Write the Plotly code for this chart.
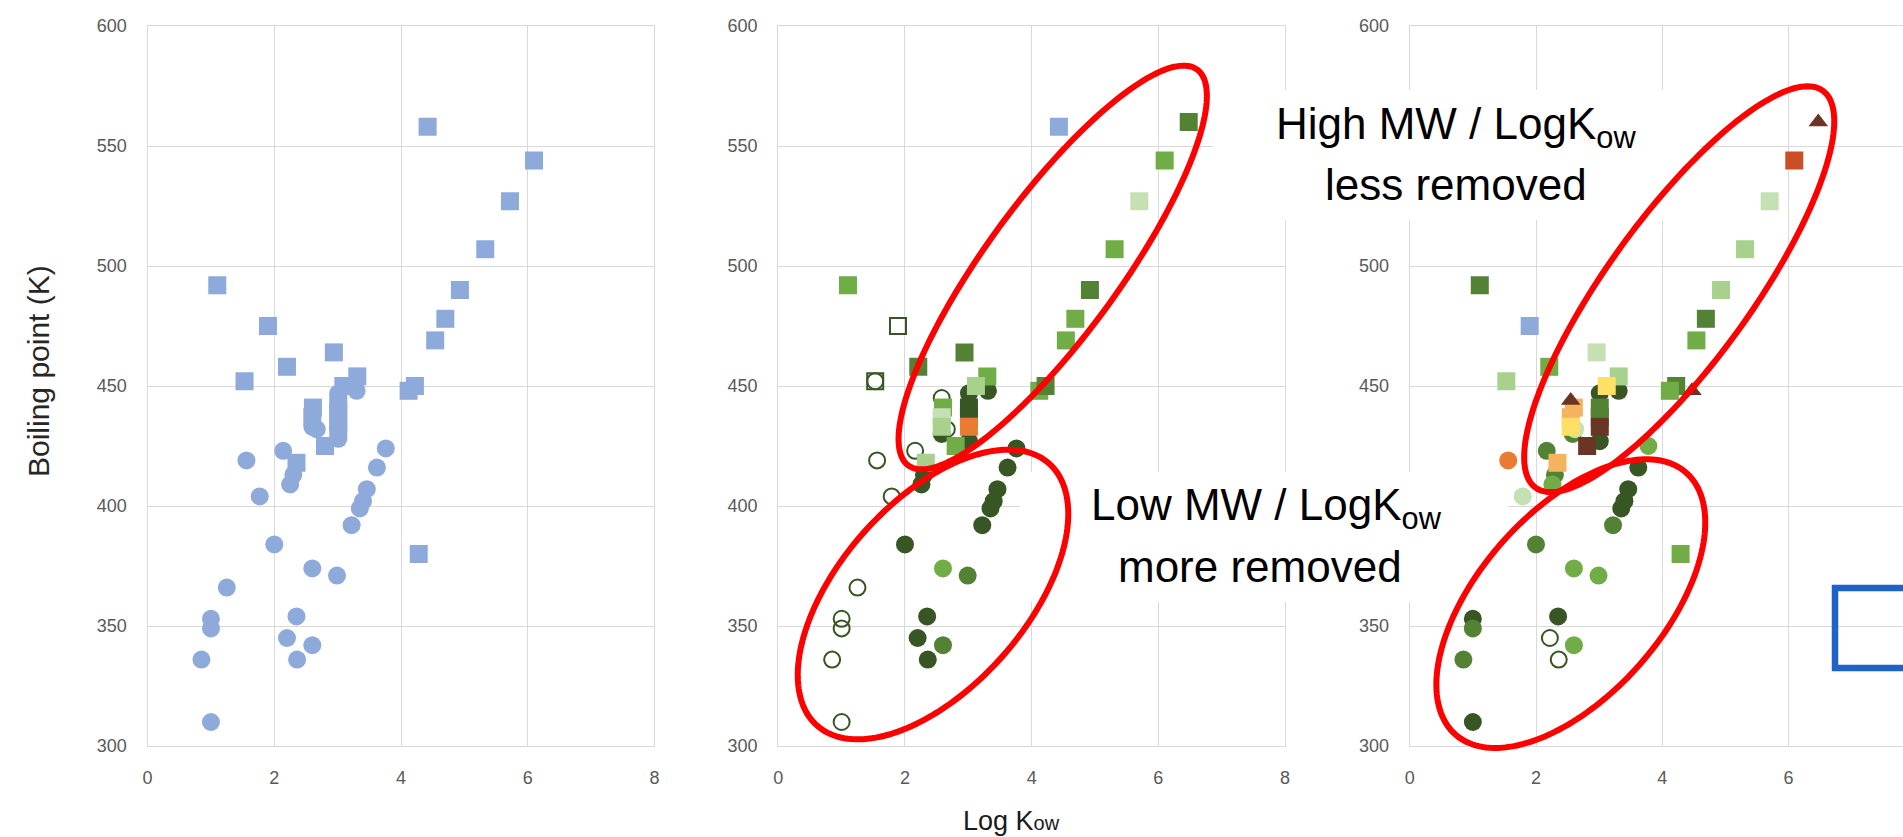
import numpy as np
import plotly.graph_objects as go

W, H = 1903, 837
FONT = "Liberation Sans, Arial, sans-serif"

# ---------------- data (Log Kow, boiling point K) ----------------
# Panel 1 (all compounds, blue)
P1_SQ_X = [1.10, 1.90, 1.53, 2.20, 2.94, 3.31, 3.09, 4.22, 4.12, 4.42, 6.10, 5.72, 5.33,
           4.93, 4.70, 4.54, 2.61, 2.60, 2.80, 2.35, 4.28, 3.01, 3.01, 3.01, 3.01]
P1_SQ_Y = [492, 475, 452, 458, 464, 454, 450, 450, 448, 558, 544, 527, 507,
           490, 478, 469, 441, 437, 425, 418, 380, 443, 439, 435, 431]
P1_CI_X = [1.56, 2.14, 2.30, 2.25, 1.77, 3.76, 3.62, 3.46, 3.40, 3.35, 3.22, 2.00, 2.60, 2.99,
           1.25, 1.00, 1.00, 0.85, 1.00, 2.35, 2.20, 2.60, 2.36, 3.30, 2.60, 2.67, 3.01, 3.01]
P1_CI_Y = [419, 423, 413, 409, 404, 424, 416, 407, 402, 399, 392, 384, 374, 371,
           366, 353, 349, 336, 310, 354, 345, 342, 336, 448, 433, 432, 447, 428]

# Panel 2
P2_SQ_BLUE_X, P2_SQ_BLUE_Y = [4.43], [558]
P2_SQ_DARK_X, P2_SQ_DARK_Y = [6.48, 4.92, 2.21, 2.94, 4.22], [560, 490, 458, 464, 450]
P2_SQ_DARKEST_X, P2_SQ_DARKEST_Y = [3.01, 3.01], [441, 437]
P2_SQ_GREEN_X = [6.10, 5.31, 4.69, 4.54, 1.10, 3.30, 4.12, 2.60, 2.80, 4.28]
P2_SQ_GREEN_Y = [544, 507, 478, 469, 492, 454, 448, 441, 425, 380]
P2_SQ_LIGHT_X, P2_SQ_LIGHT_Y = [3.12, 2.33, 2.58], [450, 418, 433]
P2_SQ_LIGHTER_X, P2_SQ_LIGHTER_Y = [5.70, 2.58], [527, 437]
P2_SQ_ORANGE_X, P2_SQ_ORANGE_Y = [3.01], [433]
P2_SQ_OPEN_X, P2_SQ_OPEN_Y = [1.89, 1.53], [475, 452]
P2_CI_DARKEST_X = [3.31, 3.01, 3.01, 2.58, 2.30, 2.26, 3.76, 3.62, 3.46, 3.40, 3.35, 3.22,
                   2.00, 2.35, 2.20, 2.36]
P2_CI_DARKEST_Y = [448, 447, 427, 430, 413, 409, 424, 416, 407, 402, 399, 392,
                   384, 354, 345, 336]
P2_CI_DARK_X, P2_CI_DARK_Y = [2.99, 2.60], [371, 342]
P2_CI_GREEN_X, P2_CI_GREEN_Y = [2.60], [374]
P2_CI_OPEN_X = [1.53, 2.58, 2.66, 2.16, 1.56, 1.79, 1.25, 1.00, 1.00, 0.85, 1.00]
P2_CI_OPEN_Y = [452, 445, 432, 423, 419, 404, 366, 353, 349, 336, 310]

# Panel 3
P3_SQ_BLUE_X, P3_SQ_BLUE_Y = [1.90], [475]
P3_SQ_DARK_X, P3_SQ_DARK_Y = [1.11, 4.69, 3.01, 4.22, 3.01], [492, 478, 441, 450, 437]
P3_SQ_GREEN_X, P3_SQ_GREEN_Y = [4.54, 2.21, 4.12, 4.29], [469, 458, 448, 380]
P3_SQ_LIGHT_X, P3_SQ_LIGHT_Y = [5.31, 4.93, 3.31, 1.53], [507, 490, 454, 452]
P3_SQ_LIGHTER_X, P3_SQ_LIGHTER_Y = [5.70, 2.96], [527, 464]
P3_SQ_YELLOW_X, P3_SQ_YELLOW_Y = [3.12, 2.55], [450, 433]
P3_SQ_LORANGE_X, P3_SQ_LORANGE_Y = [2.60, 2.55, 2.34], [441, 437, 418]
P3_SQ_BROWN_X, P3_SQ_BROWN_Y = [3.01, 2.81], [433, 425]
P3_SQ_RED_X, P3_SQ_RED_Y = [6.09], [544]
P3_TRI_BROWN_X, P3_TRI_BROWN_Y = [6.47, 2.55, 4.47], [560, 444, 448]
P3_CI_DARKEST_X = [3.31, 3.01, 3.01, 3.62, 3.46, 3.40, 3.35, 2.35, 1.00, 1.00]
P3_CI_DARKEST_Y = [448, 447, 427, 416, 407, 402, 399, 354, 353, 310]
P3_CI_DARK_X = [2.17, 2.30, 2.00, 3.22, 1.00, 0.85, 2.58]
P3_CI_DARK_Y = [423, 413, 384, 392, 349, 336, 430]
P3_CI_GREEN_X = [2.26, 3.78, 2.60, 2.99, 2.60, 1.25]
P3_CI_GREEN_Y = [409, 425, 374, 371, 342, 366]
P3_CI_LIGHT_X, P3_CI_LIGHT_Y = [1.79, 2.62], [404, 432]
P3_CI_ORANGE_X, P3_CI_ORANGE_Y = [1.56], [419]
P3_CI_OPEN_X, P3_CI_OPEN_Y = [2.22, 2.36], [345, 336]

X_TICKS = [0, 2, 4, 6, 8]
Y_TICKS = [300, 350, 400, 450, 500, 550, 600]
Y_TICK_TEXT = ["300", "350", "400", "450", "500", "550", "600"]
# labels of panel 3 hidden behind the overlay text boxes in the original
Y_TICK_TEXT_P3 = ["300", "350", "", "450", "500", "", "600"]

# ---------------- styles ----------------
BLUE = "#8eaadb"
DARKEST = "#375623"
DARK = "#548235"
GREEN = "#70ad47"
LIGHT = "#a9d18e"
LIGHTER = "#c5e0b4"
ORANGE = "#e97c30"
LORANGE = "#f4b35e"
YELLOW = "#ffe066"
BROWN = "#6b3526"
RED = "#c94f28"
MS = 18


def mk(symbol, color, size=MS):
    if symbol.endswith("-open"):
        return dict(symbol=symbol, size=size - 2, color=DARKEST, line=dict(color=DARKEST, width=2))
    return dict(symbol=symbol, size=size, color=color, line=dict(width=0))


# panel, x, y, marker  (drawing order)
SERIES = [
    (1, P1_CI_X, P1_CI_Y, mk("circle", BLUE)),
    (1, P1_SQ_X, P1_SQ_Y, mk("square", BLUE)),

    (2, P2_CI_OPEN_X, P2_CI_OPEN_Y, mk("circle-open", DARKEST)),
    (2, P2_CI_DARKEST_X, P2_CI_DARKEST_Y, mk("circle", DARKEST)),
    (2, P2_CI_DARK_X, P2_CI_DARK_Y, mk("circle", DARK)),
    (2, P2_CI_GREEN_X, P2_CI_GREEN_Y, mk("circle", GREEN)),
    (2, P2_SQ_DARKEST_X, P2_SQ_DARKEST_Y, mk("square", DARKEST)),
    (2, P2_SQ_ORANGE_X, P2_SQ_ORANGE_Y, mk("square", ORANGE)),
    (2, P2_SQ_GREEN_X, P2_SQ_GREEN_Y, mk("square", GREEN)),
    (2, P2_SQ_DARK_X, P2_SQ_DARK_Y, mk("square", DARK)),
    (2, P2_SQ_LIGHTER_X, P2_SQ_LIGHTER_Y, mk("square", LIGHTER)),
    (2, P2_SQ_LIGHT_X, P2_SQ_LIGHT_Y, mk("square", LIGHT)),
    (2, P2_SQ_BLUE_X, P2_SQ_BLUE_Y, mk("square", BLUE)),
    (2, P2_SQ_OPEN_X, P2_SQ_OPEN_Y, mk("square-open", DARKEST)),

    (3, P3_CI_DARKEST_X, P3_CI_DARKEST_Y, mk("circle", DARKEST)),
    (3, P3_CI_DARK_X, P3_CI_DARK_Y, mk("circle", DARK)),
    (3, P3_CI_GREEN_X, P3_CI_GREEN_Y, mk("circle", GREEN)),
    (3, P3_CI_LIGHT_X, P3_CI_LIGHT_Y, mk("circle", LIGHTER)),
    (3, P3_CI_ORANGE_X, P3_CI_ORANGE_Y, mk("circle", ORANGE)),
    (3, P3_CI_OPEN_X, P3_CI_OPEN_Y, mk("circle-open", DARKEST)),
    (3, P3_SQ_DARK_X, P3_SQ_DARK_Y, mk("square", DARK)),
    (3, P3_SQ_GREEN_X, P3_SQ_GREEN_Y, mk("square", GREEN)),
    (3, P3_SQ_LIGHT_X, P3_SQ_LIGHT_Y, mk("square", LIGHT)),
    (3, P3_SQ_LIGHTER_X, P3_SQ_LIGHTER_Y, mk("square", LIGHTER)),
    (3, P3_SQ_LORANGE_X, P3_SQ_LORANGE_Y, mk("square", LORANGE)),
    (3, P3_SQ_BROWN_X, P3_SQ_BROWN_Y, mk("square", BROWN)),
    (3, P3_SQ_YELLOW_X, P3_SQ_YELLOW_Y, mk("square", YELLOW)),
    (3, P3_SQ_RED_X, P3_SQ_RED_Y, mk("square", RED)),
    (3, P3_SQ_BLUE_X, P3_SQ_BLUE_Y, mk("square", BLUE)),
    (3, P3_TRI_BROWN_X, P3_TRI_BROWN_Y, mk("triangle-up", BROWN, 17)),
]

fig = go.Figure()
for panel, xs, ys, marker in SERIES:
    sfx = "" if panel == 1 else str(panel)
    fig.add_trace(go.Scatter(x=xs, y=ys, mode="markers", marker=marker,
                             xaxis="x" + sfx, yaxis="y" + sfx,
                             hoverinfo="skip", showlegend=False))

# ---------------- layout (pixel geometry) ----------------
def px(x):
    return x / W


def py(y):
    return 1 - y / H


Y_TOP, Y_BOT = 26.0, 746.0
PANELS_X = [(147.6, 654.4, 8.0), (778.3, 1285.0, 8.0), (1409.7, 1903.0, (1903 - 1409.7) / 63.15)]
GRID = "#d9d9d9"
tickfont = dict(family=FONT, size=18, color="#595959")

layout = dict(
    width=W, height=H, margin=dict(l=0, r=0, t=0, b=0, autoexpand=False),
    paper_bgcolor="white", plot_bgcolor="white", showlegend=False,
    font=dict(family=FONT),
)
for i, (x0, x1, xmax) in enumerate(PANELS_X):
    sfx = "" if i == 0 else str(i + 1)
    layout["xaxis" + sfx] = dict(
        domain=[px(x0), min(px(x1), 1.0)], range=[0, xmax], tickvals=X_TICKS,
        showgrid=True, gridcolor=GRID, gridwidth=1.3, zeroline=False,
        showline=True, linecolor=GRID, linewidth=1.3, mirror=True,
        ticks="", ticklen=0, ticklabelstandoff=15, tickfont=tickfont,
        anchor="y" + sfx, fixedrange=True, automargin=False)
    layout["yaxis" + sfx] = dict(
        domain=[py(Y_BOT), py(Y_TOP)], range=[300, 600], tickvals=Y_TICKS,
        ticktext=Y_TICK_TEXT_P3 if i == 2 else Y_TICK_TEXT,
        showgrid=True, gridcolor=GRID, gridwidth=1.3, zeroline=False,
        showline=True, linecolor=GRID, linewidth=1.3, mirror=(i < 2),
        ticks="", ticklen=0, ticklabelstandoff=16, tickfont=tickfont,
        anchor="x" + sfx, fixedrange=True, automargin=False)

# ---------------- overlay shapes ----------------
shapes = []
# white text boxes
for (bx0, by0, bx1, by1) in [(1213, 90, 1700, 220), (1020, 472, 1508, 602)]:
    shapes.append(dict(type="rect", xref="paper", yref="paper",
                       x0=px(bx0), x1=px(bx1), y0=py(by1), y1=py(by0),
                       fillcolor="white", line=dict(width=0), layer="above"))

# red ellipses: centre (px), semi-axes (px), angle (deg)
ELLIPSES = [
    (1052.7, 267.5, 245, 67, 53.9),
    (933.0, 594.5, 175, 93, 48.5),
    (1679.2, 289.2, 245, 72, 54.1),
    (1570.8, 603.6, 174.5, 92, 48.6),
]
t = np.linspace(0, 2 * np.pi, 181)
for cx, cy, a, b, ang in ELLIPSES:
    th = np.radians(ang)
    ex = cx + a * np.cos(th) * np.cos(t) - b * np.sin(th) * np.sin(t)
    ey = cy - (a * np.sin(th) * np.cos(t) + b * np.cos(th) * np.sin(t))
    path = "M " + " L ".join(f"{px(u):.5f},{py(v):.5f}" for u, v in zip(ex, ey)) + " Z"
    shapes.append(dict(type="path", xref="paper", yref="paper", path=path,
                       line=dict(color="#ff0000", width=6), layer="above"))

# blue partial rectangle at right edge
shapes.append(dict(type="rect", xref="paper", yref="paper",
                   x0=px(1835), x1=px(1990), y0=py(668), y1=py(588),
                   line=dict(color="#1f62c8", width=6.5), fillcolor="rgba(0,0,0,0)",
                   layer="above"))
layout["shapes"] = shapes

# ---------------- texts ----------------
BIG = dict(family=FONT, size=44, color="black")
ann = []
for txt, cx, cy in [
    ("High MW / LogK<sub>ow</sub>", 1455.5, 127.5),
    ("less removed", 1455.5, 184.1),
    ("Low MW / LogK<sub>ow</sub>", 1266.5, 507.5),
    ("more removed", 1259.5, 566.5),
]:
    ann.append(dict(text=txt, x=px(cx), y=py(cy), xref="paper", yref="paper",
                    xanchor="center", yanchor="middle", showarrow=False, font=BIG))

ann.append(dict(text="Boiling point (K)", x=px(39), y=py(371), xref="paper", yref="paper",
                textangle=-90, xanchor="center", yanchor="middle", showarrow=False,
                font=dict(family=FONT, size=30, color="#262626")))
ann.append(dict(text="Log K<span style='font-size:20px'>ow</span>", x=px(1011.5), y=py(821),
                xref="paper", yref="paper", xanchor="center", yanchor="middle",
                showarrow=False, font=dict(family=FONT, size=27, color="#1a1a1a")))
layout["annotations"] = ann

fig.update_layout(**layout)
fig.write_html("out.html", config={"displayModeBar": False},
               post_script="document.body.style.margin='0';document.body.style.overflow='hidden';")
